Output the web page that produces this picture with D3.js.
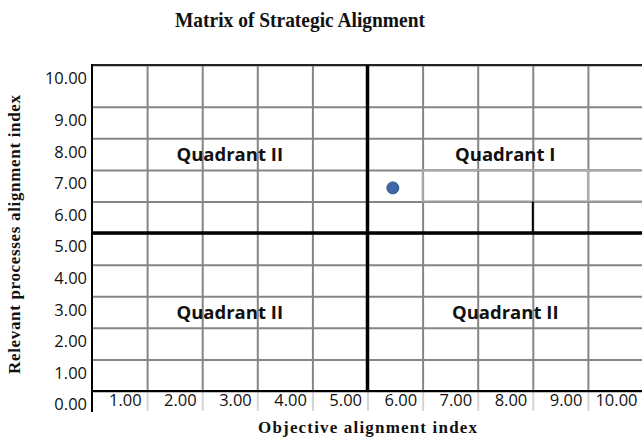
<!DOCTYPE html>
<html>
<head>
<meta charset="utf-8">
<script src="https://cdn.jsdelivr.net/npm/d3@7"></script>
<style>
  body { margin: 0; background: #fff; }
  svg { display: block; }
</style>
</head>
<body>
<svg id="chart"></svg>
<script>
// chart values
const xTicks = [1, 2, 3, 4, 5, 6, 7, 8, 9, 10];
const yTicks = [0, 1, 2, 3, 4, 5, 6, 7, 8, 9, 10];
const points = [{ x: 5.46, y: 6.43 }];
const quadrantNames = ["Quadrant II", "Quadrant I", "Quadrant II", "Quadrant II"];
const quadrantX = [2.5, 7.5, 2.5, 7.5];
const quadrantY = [7.5, 7.5, 2.5, 2.5];
const midX = 5, midY = 5;

const width = 642, height = 443;
const svg = d3.select("#chart").attr("width", width).attr("height", height);

// excel stretched the top row a bit, so y is piecewise
const x = d3.scaleLinear().domain([0, 10]).range([92, 643]);
const y = d3.scaleLinear().domain([0, 9, 10]).range([391, 106.7, 65]);
const fmt = d3.format(".2f");

// light stubs under the bottom line
svg.append("g")
  .attr("transform", `translate(0,${y(0)})`)
  .call(d3.axisBottom(x).tickValues(xTicks.slice(0, -1)).tickSize(20).tickFormat(""))
  .call(g => g.select(".domain").remove())
  .call(g => g.selectAll("line").attr("stroke", "#d4d4d4").attr("stroke-width", 2));

// vertical grid + x labels
const gx = svg.append("g")
  .attr("transform", `translate(0,${y(0)})`)
  .call(d3.axisBottom(x).tickValues(xTicks).tickSize(-(y(0) - y(10))).tickFormat(fmt));
gx.select(".domain").remove();
gx.selectAll("line").attr("stroke", "#858585").attr("stroke-width", 2);
gx.selectAll("text")
  .attr("text-anchor", "end").attr("x", -6).attr("y", 15).attr("dy", null)
  .attr("fill", "#111")
  .style("font", "16.5px 'Open Sans', sans-serif");

// horizontal grid + y labels
const gy = svg.append("g")
  .attr("transform", `translate(${x(0)},0)`)
  .call(d3.axisLeft(y).tickValues(yTicks).tickSize(-(x(10) - x(0))).tickFormat(fmt));
gy.select(".domain").remove();
gy.selectAll("line").attr("stroke", "#858585").attr("stroke-width", 2);
gy.selectAll("text")
  .attr("x", -5).attr("y", 13).attr("dy", "0.36em")
  .attr("fill", "#111")
  .style("font", "16.5px 'Open Sans', sans-serif");

// odd light / dark segments in the upper right
const seg = (x1, y1, x2, y2, c, w) => svg.append("line")
  .attr("x1", x(x1)).attr("y1", y(y1)).attr("x2", x(x2)).attr("y2", y(y2))
  .attr("stroke", c).attr("stroke-width", w);
seg(6, 7, 10, 7, "#a8a8a8", 2);
seg(6, 6, 10, 6, "#9c9c9c", 2);
seg(6, 7, 6, 6, "#b0b0b0", 2);
seg(9, 7, 9, 6, "#b0b0b0", 2);
seg(8, 6, 8, 5, "#000", 2);

// borders and the quadrant cross
seg(0, 10, 10, 10, "#222", 2);
seg(0, 0, 10, 0, "#000", 2);
svg.append("line")
  .attr("x1", x(0)).attr("x2", x(0)).attr("y1", y(10) - 1).attr("y2", 412)
  .attr("stroke", "#000").attr("stroke-width", 2);
seg(midX, 10, midX, 0, "#000", 3.5);
seg(0, midY, 10, midY, "#000", 3.5);

// quadrant names
svg.append("g").selectAll("text")
  .data(quadrantNames)
  .join("text")
  .attr("x", (d, i) => x(quadrantX[i]))
  .attr("y", (d, i) => y(quadrantY[i]))
  .attr("dy", "0.38em")
  .attr("text-anchor", "middle")
  .attr("fill", "#111")
  .style("font", "bold 18.5px 'Open Sans', sans-serif")
  .text(d => d);

// the point
svg.append("g").selectAll("circle")
  .data(points)
  .join("circle")
  .attr("cx", d => x(d.x))
  .attr("cy", d => y(d.y))
  .attr("r", 6)
  .attr("fill", "#3e67a8")
  .attr("stroke", "#30568f")
  .attr("stroke-width", 1);

// titles
svg.append("text")
  .attr("x", 175).attr("y", 27)
  .attr("textLength", 250).attr("lengthAdjust", "spacingAndGlyphs")
  .style("font", "bold 21px 'Liberation Serif', serif")
  .attr("fill", "#111")
  .text("Matrix of Strategic Alignment");

svg.append("text")
  .attr("x", 258).attr("y", 433)
  .attr("textLength", 219).attr("lengthAdjust", "spacing")
  .style("font", "bold 17px 'Liberation Serif', serif")
  .attr("fill", "#111")
  .text("Objective alignment index");

svg.append("text")
  .attr("transform", "translate(20,374) rotate(-90)")
  .attr("textLength", 279).attr("lengthAdjust", "spacing")
  .style("font", "bold 17px 'Liberation Serif', serif")
  .attr("fill", "#111")
  .text("Relevant processes alignment index");
</script>
</body>
</html>
